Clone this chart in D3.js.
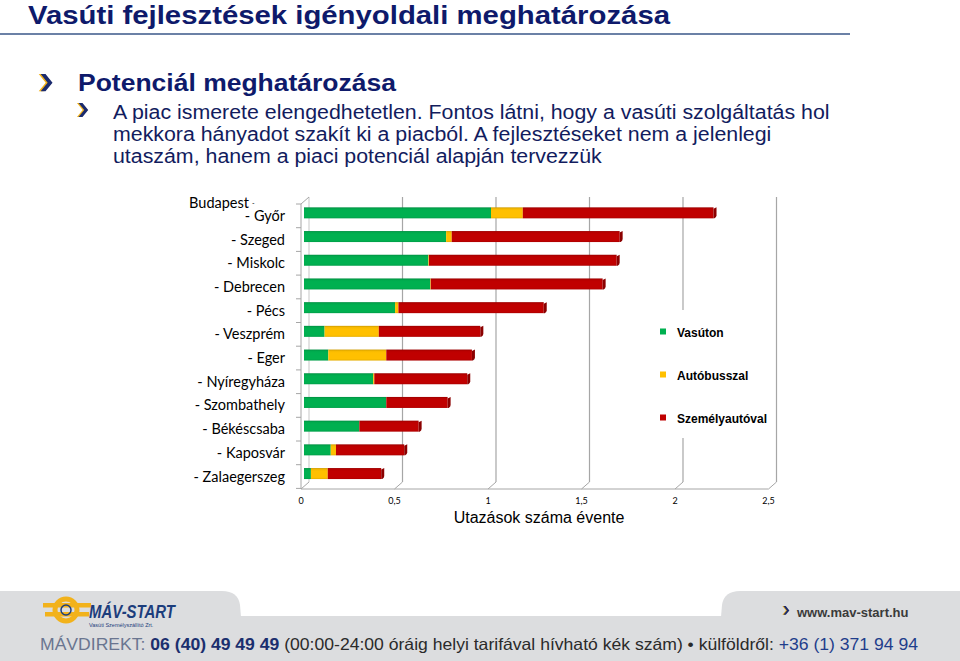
<!DOCTYPE html>
<html><head><meta charset="utf-8">
<script src="https://cdn.jsdelivr.net/npm/d3@7"></script>
<style>body{margin:0;background:#fff;} svg{display:block}</style>
</head><body><svg id="c" width="960" height="661"></svg>
<script>
const categories = ["Budapest - Győr","- Szeged","- Miskolc","- Debrecen","- Pécs","- Veszprém","- Eger","- Nyíregyháza","- Szombathely","- Békéscsaba","- Kaposvár","- Zalaegerszeg"];
const rail = [1.0, 0.76, 0.665, 0.675, 0.487, 0.11, 0.13, 0.37, 0.44, 0.296, 0.143, 0.037];
const bus  = [0.17, 0.03, 0.003, 0.003, 0.018, 0.29, 0.31, 0.006, 0.0, 0.0, 0.028, 0.09];
const car  = [1.02, 0.898, 1.004, 0.919, 0.777, 0.543, 0.458, 0.497, 0.328, 0.317, 0.365, 0.286];
const seriesNames = ["Vasúton","Autóbusszal","Személyautóval"];
const seriesColors = ["#00b050","#ffc000","#c00000"];
const xTicks = [0, 0.5, 1, 1.5, 2, 2.5];
const xTickLabels = ["0","0,5","1","1,5","2","2,5"];
const axisTitle = "Utazások száma évente";
const pageTitle = "Vasúti fejlesztések igényoldali meghatározása";
const heading = "Potenciál meghatározása";
const bodyLines = ["A piac ismerete elengedhetetlen. Fontos látni, hogy a vasúti szolgáltatás hol",
  "mekkora hányadot szakít ki a piacból. A fejlesztéseket nem a jelenlegi",
  "utaszám, hanem a piaci potenciál alapján tervezzük"];

const svg = d3.select("#c");
const navy = "#0e1a6b";

function stretch(sel, factor){
  const w = sel.node().getComputedTextLength();
  sel.attr("textLength", w*factor).attr("lengthAdjust","spacingAndGlyphs");
}

// ---------- header ----------
const tt = svg.append("text").attr("x",28).attr("y",23.5).attr("font-family","Liberation Sans, Arial")
  .attr("font-weight","bold").attr("font-size",25).attr("fill",navy).text(pageTitle);
tt.attr("textLength",642).attr("lengthAdjust","spacingAndGlyphs");
svg.append("line").attr("x1",0).attr("x2",850).attr("y1",34).attr("y2",34)
  .attr("stroke","#3a5789").attr("stroke-width",1.6);

function chevron(x, y, s){
  const g = svg.append("g").attr("transform",`translate(${x},${y}) scale(${s})`);
  const pts = "0,0 4.5,0 11,8 4.5,16 0,16 6.5,8";
  g.append("polygon").attr("points",pts).attr("fill","#f2b21b").attr("transform","translate(-1.2,0)");
  g.append("polygon").attr("points",pts).attr("fill","#1a2a6e").attr("transform","translate(0.6,0)");
}
chevron(40, 74, 1.08);
chevron(78, 103, 0.88);

svg.append("text").attr("x",78).attr("y",91).attr("font-family","Liberation Sans, Arial")
  .attr("font-weight","bold").attr("font-size",23).attr("fill",navy).text(heading)
  .attr("textLength",318).attr("lengthAdjust","spacingAndGlyphs");
bodyLines.forEach((t,i)=>{
  const s = svg.append("text").attr("x",113).attr("y",119+i*22).attr("font-family","Liberation Sans, Arial")
    .attr("font-size",20).attr("fill","#121c5e").text(t);
  stretch(s, 1.067);
});

// ---------- chart ----------
const x = d3.scaleLinear().domain([0,2.5]).range([301,768.5]);
const y = d3.scaleBand().domain(categories).range([204,488.4]);
const dx = 8, dy = 7, floorY = 489;
const gridC = "#a6a6a6";

const defs = svg.append("defs");
seriesColors.forEach((c,i)=>{
  const lg = defs.append("linearGradient").attr("id","g"+i).attr("x1",0).attr("x2",0).attr("y1",0).attr("y2",1);
  const base = d3.color(c);
  lg.append("stop").attr("offset","0%").attr("stop-color",base.darker(0.6));
  lg.append("stop").attr("offset","14%").attr("stop-color",base.darker(0.1));
  lg.append("stop").attr("offset","30%").attr("stop-color",base);
  lg.append("stop").attr("offset","85%").attr("stop-color",base);
  lg.append("stop").attr("offset","100%").attr("stop-color",base.darker(0.3));
});

const grid = svg.append("g");
grid.selectAll(".bg").data(xTicks).join("line")
  .attr("x1",d=>x(d)+dx).attr("x2",d=>x(d)+dx).attr("y1",floorY-dy-285).attr("y2",floorY-dy)
  .attr("stroke",d=>d===0?"#d0d0d0":gridC).attr("stroke-width",1.2);
grid.selectAll(".fd").data(xTicks).join("line")
  .attr("x1",d=>x(d)).attr("x2",d=>x(d)+dx).attr("y1",floorY).attr("y2",floorY-dy)
  .attr("stroke",gridC).attr("stroke-width",1);
grid.append("line").attr("x1",x(0)).attr("x2",x(2.5)).attr("y1",floorY).attr("y2",floorY)
  .attr("stroke",gridC).attr("stroke-width",1);
grid.append("line").attr("x1",x(0)).attr("x2",x(0)).attr("y1",y.range()[0]).attr("y2",floorY)
  .attr("stroke",gridC).attr("stroke-width",1);
grid.append("line").attr("x1",x(0)).attr("x2",x(0)+dx).attr("y1",y.range()[0]).attr("y2",y.range()[0]-dy)
  .attr("stroke",gridC).attr("stroke-width",1);
const bounds = categories.map(c=>y(c)).concat([y.range()[1]]);
grid.selectAll(".tk").data(bounds).join("line")
  .attr("x1",x(0)-5).attr("x2",x(0)).attr("y1",d=>d).attr("y2",d=>d)
  .attr("stroke",gridC).attr("stroke-width",1);

svg.append("g").selectAll("text").data(xTicks).join("text")
  .attr("x",d=>x(d)).attr("y",504).attr("text-anchor","middle")
  .attr("font-family","Lato, Carlito, sans-serif").attr("font-size",9).attr("fill","#000")
  .text((d,i)=>xTickLabels[i]);
svg.append("text").attr("x",539).attr("y",523).attr("text-anchor","middle")
  .attr("font-family","Liberation Sans, Arial").attr("font-size",16).attr("fill","#000").text(axisTitle);

const lab = svg.append("g").attr("font-family","Lato, Carlito, sans-serif").attr("font-size",14.5).attr("fill","#000");
categories.forEach((c,i)=>{
  const cy = y(c) + y.bandwidth()/2 + 5;
  if (c.indexOf("Budapest")===0){
    const parts = c.split(" - ");
    lab.append("text").attr("x",249).attr("y",cy-13).attr("text-anchor","end").text(parts[0]);
    lab.append("text").attr("x",252).attr("y",cy-15).attr("font-size",7).text("-");
    lab.append("text").attr("x",285).attr("y",cy).attr("text-anchor","end").text("- "+parts[1]);
  } else {
    lab.append("text").attr("x",285).attr("y",cy).attr("text-anchor","end").text(c);
  }
});

const barH = 11;
const series = [rail,bus,car];
const bars = svg.append("g");
categories.forEach((c,i)=>{
  let start = 0;
  const yt = y(c) + (y.bandwidth()-barH)/2 - 3;
  series.forEach((s,k)=>{
    const v = s[i];
    if (v<=0) return;
    bars.append("rect").attr("x",x(start)+3).attr("y",yt)
      .attr("width",x(start+v)-x(start)).attr("height",barH)
      .attr("fill",`url(#g${k})`);
    start += v;
  });
  const xe = x(start)+3;
  bars.append("path")
    .attr("d",`M${xe},${yt+1.5} L${xe+3},${yt} L${xe+3},${yt+barH-3} Q${xe+3},${yt+barH-1} ${xe+1},${yt+barH} L${xe},${yt+barH} Z`)
    .attr("fill",d3.color(seriesColors[2]).darker(0.9));
});

const leg = svg.append("g");
leg.append("rect").attr("x",650).attr("y",310).attr("width",123).attr("height",128).attr("fill","#fff");
seriesNames.forEach((n,i)=>{
  const ly = 332 + i*43;
  leg.append("rect").attr("x",660).attr("y",ly-3.5).attr("width",6).attr("height",6).attr("fill",seriesColors[i]);
  leg.append("text").attr("x",677).attr("y",ly+4.5).attr("font-family","Liberation Sans, Arial")
    .attr("font-weight","bold").attr("font-size",12).attr("fill","#000").text(n);
});

// ---------- footer ----------
const fg = "#dcdddf";
const foot = svg.append("g");
foot.append("rect").attr("x",0).attr("y",616).attr("width",960).attr("height",45).attr("fill",fg);
foot.append("path").attr("d","M0,591 L222,591 Q238,591 240,605 L241,617 L0,617 Z").attr("fill",fg);
foot.append("path").attr("d","M960,591 L740,591 Q724,591 722,605 L721,617 L960,617 Z").attr("fill",fg);

const lg = foot.append("g");
lg.append("rect").attr("x",43).attr("y",603).attr("width",48).attr("height",4.5).attr("fill","#f2b21b");
lg.append("rect").attr("x",45).attr("y",612).attr("width",44).attr("height",4.5).attr("fill","#f2b21b");
lg.append("circle").attr("cx",66).attr("cy",610).attr("r",11).attr("fill","none").attr("stroke","#f2b21b").attr("stroke-width",5);
lg.append("circle").attr("cx",66).attr("cy",610).attr("r",5).attr("fill","none").attr("stroke","#1c3d7c").attr("stroke-width",1.5);
lg.append("text").attr("x",89).attr("y",618).attr("font-family","Liberation Sans, Arial").attr("font-weight","bold")
  .attr("font-style","italic").attr("font-size",19).attr("fill","#1c3d7c").attr("textLength",86).attr("lengthAdjust","spacingAndGlyphs").text("MÁV-START");
lg.append("text").attr("x",89).attr("y",627).attr("font-family","Liberation Sans, Arial")
  .attr("font-size",5.5).attr("fill","#1c3d7c").text("Vasúti Személyszállító Zrt.");

chevron(783, 606, 0.55);
foot.append("text").attr("x",797).attr("y",617).attr("font-family","Liberation Sans, Arial").attr("font-weight","bold")
  .attr("font-size",13).attr("fill","#3a3a3a").text("www.mav-start.hu");

const ft = foot.append("text").attr("x",40).attr("y",650).attr("font-family","Liberation Sans, Arial")
  .attr("font-size",16.5).attr("textLength",878).attr("lengthAdjust","spacingAndGlyphs");
ft.append("tspan").attr("fill","#6a7590").attr("font-weight","300").text("MÁVDIREKT: ");
ft.append("tspan").attr("fill","#1b2f6e").attr("font-weight","bold").text("06 (40) 49 49 49");
ft.append("tspan").attr("fill","#2a2a2a").text(" (00:00-24:00 óráig helyi tarifával hívható kék szám) • külföldről: ");
ft.append("tspan").attr("fill","#1f3d8c").text("+36 (1) 371 94 94");
</script>
</body></html>
